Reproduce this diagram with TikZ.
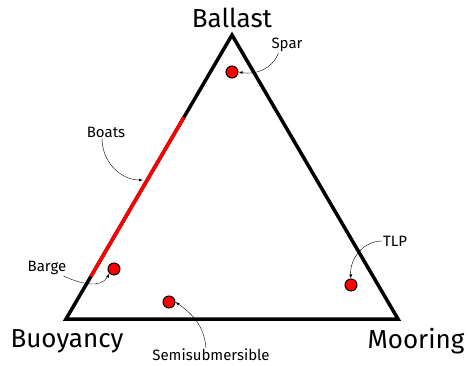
\documentclass[tikz,border=0pt]{standalone}
\usepackage{fontspec}
\setmainfont{Fira Sans}
\usetikzlibrary{calc}
\tikzset{>=latex}
\tikzset{
  corner/.style={font=\fontsize{26}{30}\selectfont},
  tag/.style={font=\fontsize{15}{18}\selectfont, inner sep=1pt},
  platform/.style={circle, draw=black, fill=red, minimum size=12pt, inner sep=0pt, line width=1pt},
  pointer/.style={thin, ->},
}

\begin{document}
\begin{tikzpicture}[x=1pt, y=-1pt]
\useasboundingbox (0,0) rectangle (469,365);

% triangle corners
\coordinate (T) at (232,35);
\coordinate (L) at (66,319);
\coordinate (R) at (398,319);

\draw[line width=3.5pt, line join=miter] (L) -- (T) -- (R) -- cycle;
\draw[line width=3.5pt, red] ($(L)!0.15!(T)$) -- ($(L)!0.71!(T)$);

\node[corner] (ballast) at (232,18) {Ballast};
\node[corner] (buoyancy) at (67,341) {Buoyancy};
\node[corner] (mooring) at (416,341) {Mooring};

\node[platform] (Sp) at (232,72) {};
\node[platform] (Ba) at (114,269) {};
\node[platform] (Se) at (169,302) {};
\node[platform] (Tl) at (351,285) {};
\coordinate (Bo) at (143,180);

\node[tag] (spar) at (287,45) {Spar};
\node[tag] (boats) at (106,132) {Boats};
\node[tag] (barge) at (47,268) {Barge};
\node[tag] (tlp) at (395,241) {TLP};
\node[tag] (semi) at (211,355) {Semisubmersible};

\draw[pointer] ([xshift=8pt]spar.south west) to[out=-110, in=-10] (Sp.east);
\draw[pointer] ([xshift=-4pt]boats.south) to[out=-90, in=180] (Bo);
\draw[pointer] ([xshift=-4pt]barge.south east) to[out=-25, in=-120] (Ba.south west);
\draw[pointer] ([xshift=-5pt]semi.north) to[out=95, in=-35] (Se.east);
\draw[pointer] (tlp.west) to[out=180, in=95] (Tl.north);
\end{tikzpicture}
\end{document}
